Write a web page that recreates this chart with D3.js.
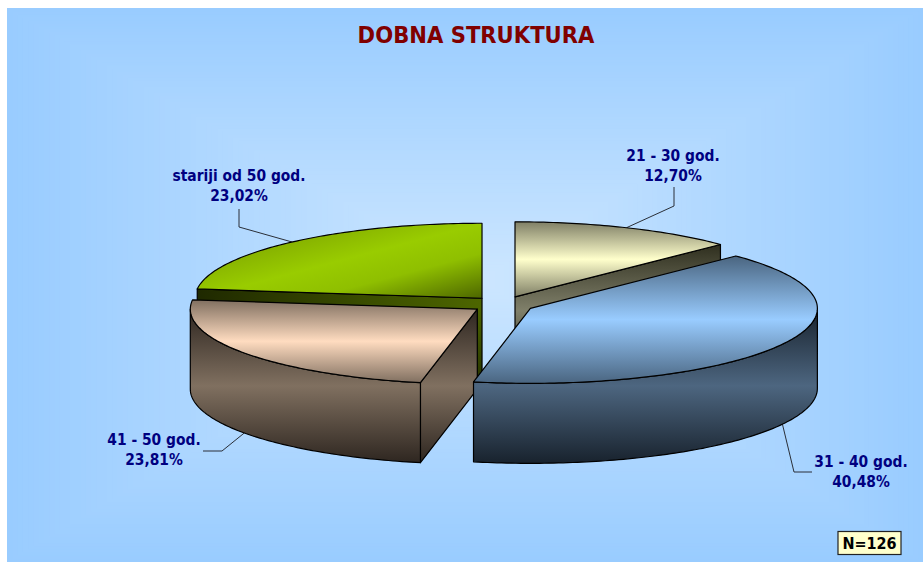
<!DOCTYPE html>
<html>
<head>
<meta charset="utf-8">
<script src="https://cdn.jsdelivr.net/npm/d3@7"></script>
<style>
html, body { margin: 0; padding: 0; background: #fff; }
svg { display: block; }
text { font-family: "DejaVu Sans Condensed", "DejaVu Sans", sans-serif; font-stretch: condensed; font-weight: bold; }
</style>
</head>
<body>
<script>
var categories = ["21 - 30 god.", "31 - 40 god.", "41 - 50 god.", "stariji od 50 god."];
var percents = [12.70, 40.48, 23.81, 23.02];
var percentLabels = ["12,70%", "40,48%", "23,81%", "23,02%"];
var sampleLabel = "N=126";
var chartTitle = "DOBNA STRUKTURA";

var width = 923, height = 562;

// pie geometry
var cx = 502.8, cy = 304.4, rx = 287, ry = 75, depth = 80, explode = 31.4 / 287;

// label placing: text centre, first baseline, leader elbow points
var labelPos = [
	{x: 673, y: 160.5, leader: [[674, 206], [674, 187]]},
	{x: 861, y: 467, leader: [[794, 472], [812, 472]]},
	{x: 154, y: 445, leader: [[222, 451], [203, 451]]},
	{x: 239, y: 181, leader: [[239, 227], [239, 209]]}
];

var sliceColors = [
	{edge: "#7f7f66", mid: "#ffffcc", sideEdge: "#2e2e1e", sideMid: "#80806a"},
	{edge: "#4a6580", mid: "#99ccff", sideEdge: "#18222d", sideMid: "#4d6680"},
	{edge: "#806f60", mid: "#ffdcc0", sideEdge: "#2e2620", sideMid: "#807060"}
];

var svg = d3.select("body").append("svg")
	.attr("width", width)
	.attr("height", height);
var defs = svg.append("defs");

// background: rectangular path gradient, drawn as nested rects
var bgColor = d3.interpolateRgb("#99ccff", "#cce6ff");
var bgX0 = 7, bgY0 = 8, bgCx = 480, bgCy = 280, bgN = 90;
var bgSteps = d3.range(0, bgN);
svg.append("g").selectAll("rect")
	.data(bgSteps)
	.enter().append("rect")
	.attr("x", function(d) { return bgX0 + (bgCx - bgX0) * d / bgN; })
	.attr("y", function(d) { return bgY0 + (bgCy - bgY0) * d / bgN; })
	.attr("width", function(d) { return (width - bgX0) * (1 - d / bgN); })
	.attr("height", function(d) { return (height - bgY0) * (1 - d / bgN); })
	.attr("fill", function(d) { return bgColor(d / (bgN - 1)); });

svg.append("text")
	.attr("x", 476)
	.attr("y", 43)
	.attr("text-anchor", "middle")
	.attr("font-size", 23.5)
	.attr("fill", "#800000")
	.text(chartTitle);

var pie = d3.pie().sort(null).value(function(d) { return d; })
	.startAngle(0).endAngle(2 * Math.PI);
var slices = pie(percents);

function vertGrad(id, edge, mid) {
	var g = defs.append("linearGradient").attr("id", id)
		.attr("x1", 0).attr("y1", 0).attr("x2", 0).attr("y2", 1);
	g.append("stop").attr("offset", 0).attr("stop-color", edge);
	g.append("stop").attr("offset", 0.5).attr("stop-color", mid);
	g.append("stop").attr("offset", 1).attr("stop-color", edge);
}

sliceColors.forEach(function(c, i) {
	vertGrad("top" + i, c.edge, c.mid);
	vertGrad("side" + i, c.sideEdge, c.sideMid);
});

// green top goes diagonal in the original
var gt = defs.append("linearGradient").attr("id", "top3")
	.attr("x1", 0).attr("y1", 0).attr("x2", 1).attr("y2", 1);
[[0, "#5f7f00"], [0.3, "#88b400"], [0.5, "#99cc00"], [0.7, "#8fbf00"], [1, "#4d6600"]].forEach(function(s) {
	gt.append("stop").attr("offset", s[0]).attr("stop-color", s[1]);
});
var gs = defs.append("linearGradient").attr("id", "side3")
	.attr("x1", 0).attr("y1", 0).attr("x2", 1).attr("y2", 0);
gs.append("stop").attr("offset", 0).attr("stop-color", "#1f2900");
gs.append("stop").attr("offset", 1).attr("stop-color", "#4d6600");
var gd = defs.append("linearGradient").attr("id", "side3dark")
	.attr("x1", 0).attr("y1", 0).attr("x2", 0).attr("y2", 1);
gd.append("stop").attr("offset", 0.2).attr("stop-color", "#000").attr("stop-opacity", 0);
gd.append("stop").attr("offset", 1).attr("stop-color", "#000").attr("stop-opacity", 0.45);

function centre(d) {
	var mid = (d.startAngle + d.endAngle) / 2;
	return [cx + explode * rx * Math.sin(mid), cy - explode * ry * Math.cos(mid)];
}
function point(c, a, dz) {
	return [c[0] + rx * Math.sin(a), c[1] - ry * Math.cos(a) + (dz || 0)];
}
function arcPoints(c, a0, a1, dz) {
	var n = Math.max(2, Math.ceil((a1 - a0) * 60));
	return d3.range(n + 1).map(function(k) {
		return point(c, a0 + (a1 - a0) * k / n, dz);
	});
}
var line = d3.line();

function drawFace(g, pts, fill) {
	g.append("path")
		.attr("d", line(pts) + "Z")
		.attr("fill", fill)
		.attr("stroke", "#000")
		.attr("stroke-width", 1.2)
		.attr("stroke-linejoin", "round");
}

// leader lines go under the slices
var leaders = svg.append("g");
slices.forEach(function(d, i) {
	var c = centre(d), mid = (d.startAngle + d.endAngle) / 2;
	var front = Math.cos(mid) < 0;
	var start = point(c, mid, front ? depth : 0);
	leaders.append("path")
		.attr("d", line([start].concat(labelPos[i].leader)))
		.attr("fill", "none")
		.attr("stroke", "#2a2f38")
		.attr("stroke-width", 1);
});

// back to front
var drawOrder = [3, 0, 2, 1];
drawOrder.forEach(function(i) {
	var d = slices[i], c = centre(d);
	var g = svg.append("g").attr("class", "slice");
	var a0 = d.startAngle, a1 = d.endAngle;

	// cut face, only yellow and brown turn it to us
	if (i == 0 || i == 2) {
		var cutA = i == 0 ? a1 : a0;
		drawFace(g, [c, point(c, cutA), point(c, cutA, depth), [c[0], c[1] + depth]], "url(#side" + i + ")");
	}
	// green front cut
	if (i == 3) {
		var q = [c, point(c, a0), point(c, a0, depth), [c[0], c[1] + depth]];
		drawFace(g, q, "url(#side3)");
		g.append("path").attr("d", line(q) + "Z").attr("fill", "url(#side3dark)");
	}
	// outer wall, only the front half shows
	var w0 = Math.max(a0, Math.PI / 2), w1 = Math.min(a1, 3 * Math.PI / 2);
	if (w1 > w0) {
		var pts = arcPoints(c, w0, w1, 0).concat(arcPoints(c, w0, w1, depth).reverse());
		drawFace(g, pts, "url(#side" + i + ")");
	}
	drawFace(g, [c].concat(arcPoints(c, a0, a1, 0)), "url(#top" + i + ")");
});

// labels
var labels = svg.append("g");
categories.forEach(function(name, i) {
	var t = labels.append("text")
		.attr("text-anchor", "middle")
		.attr("font-size", 15.4)
		.attr("fill", "#000080");
	t.append("tspan").attr("x", labelPos[i].x).attr("y", labelPos[i].y).text(name);
	t.append("tspan").attr("x", labelPos[i].x).attr("y", labelPos[i].y + 20).text(percentLabels[i]);
});

// N box
svg.append("rect")
	.attr("x", 838).attr("y", 531.5)
	.attr("width", 63).attr("height", 23)
	.attr("fill", "#ffffcc")
	.attr("stroke", "#222")
	.attr("stroke-width", 1.2);
svg.append("text")
	.attr("x", 869.5).attr("y", 548.5)
	.attr("text-anchor", "middle")
	.attr("font-size", 16)
	.attr("fill", "#000")
	.text(sampleLabel);
</script>
</body>
</html>
